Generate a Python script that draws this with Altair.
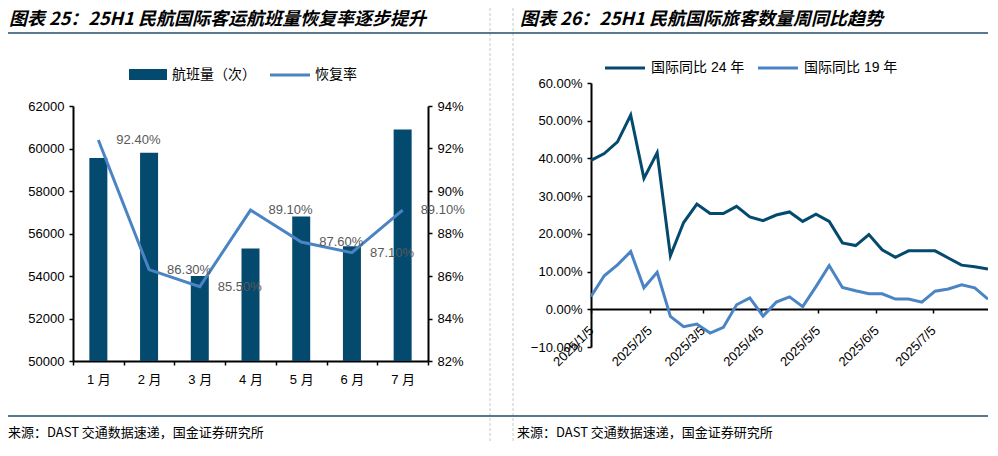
import altair as alt
import pandas as pd

# ---------------- text ----------------
TITLE_LEFT = "图表 25：25H1 民航国际客运航班量恢复率逐步提升"
TITLE_RIGHT = "图表 26：25H1 民航国际旅客数量周同比趋势"
SOURCE = "来源：DAST 交通数据速递，国金证券研究所"

# ---------------- left panel data ----------------
months = ["1 月", "2 月", "3 月", "4 月", "5 月", "6 月", "7 月"]
flights = [59550, 59800, 54000, 55300, 56800, 55400, 60900]
recovery = [0.924, 0.863, 0.855, 0.891, 0.876, 0.871, 0.891]
left_legend = ["航班量（次）", "恢复率"]
flight_ticks = [50000, 52000, 54000, 56000, 58000, 60000, 62000]
recovery_ticks = [0.82, 0.84, 0.86, 0.88, 0.90, 0.92, 0.94]

# ---------------- right panel data ----------------
week_dates = [
    "2025/01/05", "2025/01/12", "2025/01/19", "2025/01/26", "2025/02/02",
    "2025/02/09", "2025/02/16", "2025/02/23", "2025/03/02", "2025/03/09",
    "2025/03/16", "2025/03/23", "2025/03/30", "2025/04/06", "2025/04/13",
    "2025/04/20", "2025/04/27", "2025/05/04", "2025/05/11", "2025/05/18",
    "2025/05/25", "2025/06/01", "2025/06/08", "2025/06/15", "2025/06/22",
    "2025/06/29", "2025/07/06", "2025/07/13", "2025/07/20", "2025/07/27",
    "2025/08/03",
]
yoy_24 = [0.395, 0.413, 0.444, 0.515, 0.347, 0.415, 0.142, 0.230, 0.279, 0.254,
          0.254, 0.273, 0.245, 0.235, 0.250, 0.258, 0.233, 0.252, 0.233, 0.176,
          0.169, 0.198, 0.158, 0.138, 0.155, 0.155, 0.155, 0.136, 0.117, 0.113,
          0.107]
yoy_19 = [0.034, 0.089, 0.118, 0.153, 0.057, 0.098, -0.019, -0.046, -0.039, -0.063,
          -0.048, 0.012, 0.030, -0.018, 0.019, 0.033, 0.007, 0.060, 0.116, 0.058,
          0.049, 0.041, 0.041, 0.027, 0.027, 0.019, 0.048, 0.054, 0.065, 0.057,
          0.027]
right_legend = ["国际同比 24 年", "国际同比 19 年"]
yoy_ticks = [-0.1, 0.0, 0.1, 0.2, 0.3, 0.4, 0.5, 0.6]
date_tick_months = [1, 2, 3, 4, 5, 6, 7]

# ---------------- style ----------------
W, H = 980, 434
DARK = "#044A6E"
LIGHT = "#4A84C4"
RULE = "#1F4E6B"
BORDER = "#C8C8C8"
LATIN = "Liberation Sans"
CJK = "Noto Sans CJK SC"
MIXED = "Liberation Sans, Noto Sans CJK SC"

axis_style = dict(
    grid=False, labelColor="black", labelFontSize=13, labelFont=LATIN,
    domainColor="black", domainWidth=2, tickColor="black", tickWidth=1.5,
    tickSize=4, title=None,
)

left_df = pd.DataFrame({"month": months, "flights": flights, "recovery": recovery})
right_df = pd.concat([
    pd.DataFrame({"date": week_dates, "value": yoy_24, "series": right_legend[0]}),
    pd.DataFrame({"date": week_dates, "value": yoy_19, "series": right_legend[1]}),
])
dummy = pd.DataFrame({"k": [0]})

month_scale = alt.Scale(type="band", domain=months, range=[65, 420],
                        paddingInner=0, paddingOuter=0)

bars = alt.Chart(left_df).mark_bar(size=18, color=DARK).encode(
    x=alt.X("month:N", sort=months, scale=month_scale,
            axis=alt.Axis(orient="bottom", offset=-81, tickBand="extent",
                          labelAngle=0, labelPadding=8, labelFont=MIXED,
                          **{k: v for k, v in axis_style.items() if k != "labelFont"})),
    y=alt.Y("flights:Q",
            scale=alt.Scale(domain=[50000, 62000], range=[353, 98], zero=False, nice=False),
            axis=alt.Axis(orient="left", offset=-65, values=flight_ticks, format="d",
                          labelPadding=5, **axis_style)),
    y2=alt.datum(flight_ticks[0]),
)

rec_scale = alt.Scale(domain=[0.82, 0.94], range=[353, 98], zero=False, nice=False)

line_left = alt.Chart(left_df).mark_line(color=LIGHT, strokeWidth=3).encode(
    x=alt.X("month:N", sort=months, scale=month_scale, axis=None),
    y=alt.Y("recovery:Q", scale=rec_scale,
            axis=alt.Axis(orient="right", offset=-560, values=recovery_ticks,
                          format=".0%", labelPadding=5, **axis_style)),
)

labels_left = alt.Chart(left_df).mark_text(
    align="left", baseline="middle", dx=18, fontSize=13, font=LATIN, color="#595959"
).encode(
    x=alt.X("month:N", sort=months, scale=month_scale, axis=None),
    y=alt.Y("recovery:Q", scale=rec_scale, axis=None),
    text=alt.Text("recovery:Q", format=".2%"),
)

date_domain = [alt.DateTime(year=2025, month=1, date=5), alt.DateTime(year=2025, month=8, date=3)]
date_values = [alt.DateTime(year=2025, month=m, date=5) for m in date_tick_months]

lines_right = alt.Chart(right_df).mark_line(strokeWidth=3).encode(
    x=alt.X("date:T", scale=alt.Scale(domain=date_domain, range=[583, 980]),
            axis=alt.Axis(orient="bottom", offset=-133, values=date_values,
                          format="%Y/%-m/%-d", labelAngle=-45, labelAlign="right",
                          labelBaseline="middle", labelOverlap=False, labelFlush=False,
                          labelPadding=15, **axis_style)),
    y=alt.Y("value:Q", scale=alt.Scale(domain=[-0.1, 0.6], range=[339, 75], zero=False, nice=False),
            axis=alt.Axis(orient="left", offset=-583, values=yoy_ticks, format=".2%",
                          labelPadding=5, **axis_style)),
    color=alt.Color("series:N", scale=alt.Scale(domain=right_legend, range=[DARK, LIGHT]), legend=None),
)


def text_at(text, x, y, size, font=CJK, weight="normal", style="normal", color="black"):
    return alt.Chart(dummy).mark_text(
        text=text, align="left", baseline="middle", fontSize=size, font=font,
        fontWeight=weight, fontStyle=style, color=color,
    ).encode(x=alt.value(x), y=alt.value(y))


def hrule(x1, x2, y, color, width, dash=None):
    kw = dict(color=color, strokeWidth=width)
    if dash:
        kw["strokeDash"] = dash
    return alt.Chart(dummy).mark_rule(**kw).encode(x=alt.value(x1), x2=alt.value(x2), y=alt.value(y))


def vrule(x, y1, y2, color, width, dash=None):
    kw = dict(color=color, strokeWidth=width)
    if dash:
        kw["strokeDash"] = dash
    return alt.Chart(dummy).mark_rule(**kw).encode(x=alt.value(x), y=alt.value(y1), y2=alt.value(y2))


decor = [
    vrule(482, 0, H, BORDER, 1, [3, 2]),
    vrule(505, 0, H, BORDER, 1, [3, 2]),
    hrule(0, W, 25, RULE, 1.5),
    hrule(0, W, 408, RULE, 1.5),
    text_at(TITLE_LEFT, 1, 12, 18, weight="bold", style="italic"),
    text_at(TITLE_RIGHT, 512, 12, 18, weight="bold", style="italic"),
    text_at(SOURCE, 0, 425, 13),
    text_at(SOURCE, 509, 425, 13),
    alt.Chart(dummy).mark_rect(color=DARK).encode(
        x=alt.value(121), x2=alt.value(159), y=alt.value(61), y2=alt.value(72)),
    text_at(left_legend[0], 164, 67, 14),
    hrule(262, 302, 67, LIGHT, 3),
    text_at(left_legend[1], 307, 67, 14),
    hrule(597, 637, 60, DARK, 3),
    text_at(right_legend[0], 643, 60, 14, font=MIXED),
    hrule(750, 790, 60, LIGHT, 3),
    text_at(right_legend[1], 796, 60, 14, font=MIXED),
]

chart = alt.layer(
    bars, line_left, labels_left, lines_right, *decor
).resolve_scale(
    x="independent", y="independent", color="independent"
).resolve_axis(
    x="independent", y="independent"
).properties(
    width=W, height=H, padding=0, autosize=alt.AutoSizeParams(type="none"),
).configure_view(stroke=None)

chart.save("out.html", embed_options={"renderer": "svg", "actions": False})
